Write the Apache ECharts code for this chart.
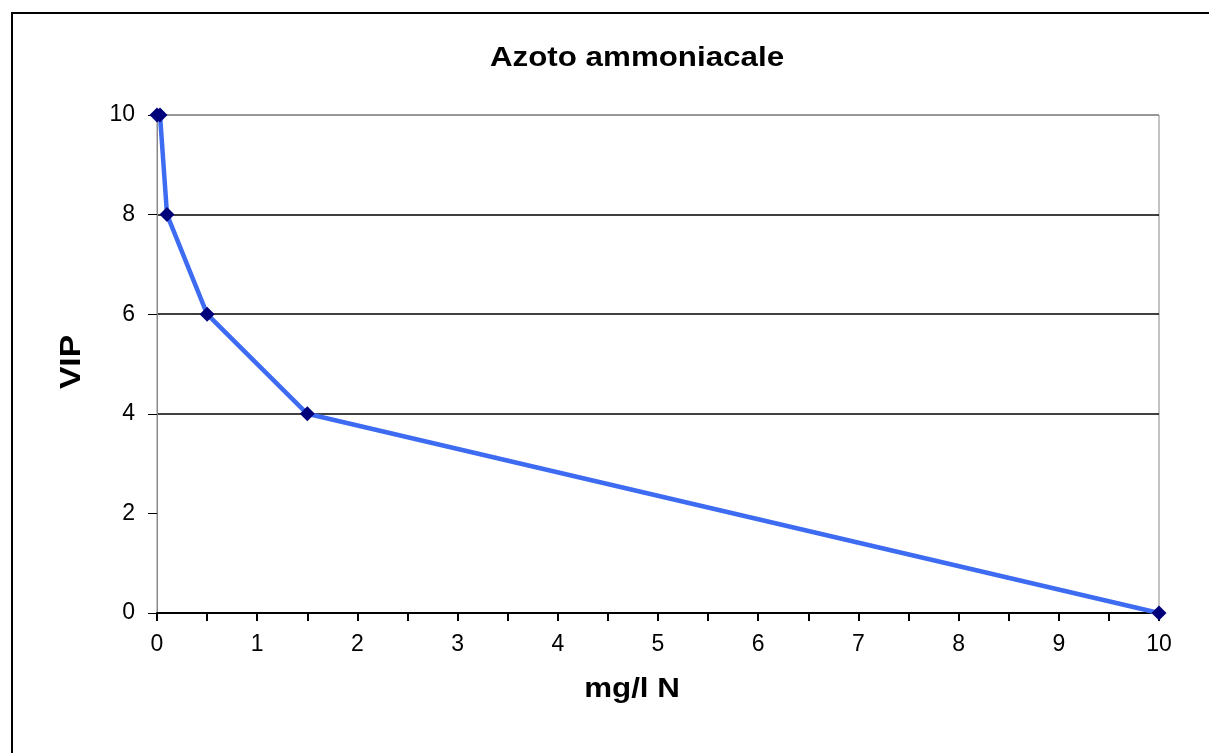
<!DOCTYPE html>
<html>
<head>
<meta charset="utf-8">
<script src="https://cdn.jsdelivr.net/npm/echarts@6/dist/echarts.min.js"></script>
<style>
  html, body { margin: 0; padding: 0; background: #fff; }
  #chart { width: 1209px; height: 753px; }
</style>
</head>
<body>
<div id="chart"></div>
<script>
// valori
const concentrazione = [0, 0.03, 0.1, 0.5, 1.5, 10]   // mg/l N
const vip = [10, 10, 8, 6, 4, 0]
const xTicks = [0, 1, 2, 3, 4, 5, 6, 7, 8, 9, 10]
const yTicks = [0, 2, 4, 6, 8, 10]

const chart = echarts.init(document.getElementById('chart'))
const font = 'Liberation Sans, Arial, sans-serif'
const boldFont = 'bold 27px Liberation Sans, Arial, sans-serif'

let option = {
  backgroundColor: '#fff',
  animation: false,
  graphic: [
    {
      type: 'rect',
      shape: { x: 12, y: 13, width: 1300, height: 800 },
      style: { fill: 'none', stroke: '#000', lineWidth: 2 },
      silent: true,
    },
    {
      // titolo
      type: 'text',
      x: 637,
      y: 59,
      scaleX: 1.16,
      style: { text: 'Azoto ammoniacale', font: boldFont, fill: '#000', textAlign: 'center', textVerticalAlign: 'middle' },
    },
    {
      type: 'text',
      x: 632,
      y: 690,
      scaleX: 1.16,
      style: { text: 'mg/l N', font: boldFont, fill: '#000', textAlign: 'center', textVerticalAlign: 'middle' },
    },
    {
      type: 'text',
      x: 72,
      y: 362,
      rotation: Math.PI / 2,
      scaleX: 1.12,
      style: { text: 'VIP', font: 'bold 30px Liberation Sans, Arial, sans-serif', fill: '#000', textAlign: 'center', textVerticalAlign: 'middle' },
    },
  ],
  grid: {
    left: 157,
    right: 50,
    top: 115,
    bottom: 140,
    show: true,
    borderColor: '#888',
    borderWidth: 1,
  },
  xAxis: {
    type: 'value',
    min: 0,
    max: 10,
    interval: 0.5,
    axisLine: { lineStyle: { color: '#000', width: 2 } },
    axisTick: { show: true, length: 8, lineStyle: { color: '#000', width: 2 } },
    axisLabel: {
      margin: 20,
      fontFamily: font,
      fontSize: 23,
      color: '#000',
      formatter: (v) => (xTicks.includes(v) ? String(v) : ''),
    },
    splitLine: { show: false },
  },
  yAxis: {
    type: 'value',
    min: 0,
    max: 10,
    interval: 2,
    axisLine: { show: true, lineStyle: { color: '#888', width: 1 } },
    axisTick: { show: true, length: 9, lineStyle: { color: '#000', width: 1 } },
    axisLabel: {
      margin: 22,
      fontFamily: font,
      fontSize: 23,
      color: '#000',
      formatter: (v) => (yTicks.includes(v) ? String(v) : ''),
    },
    splitLine: {
      show: true,
      lineStyle: { color: ['transparent', 'transparent', '#000', '#000', '#000', '#888'], width: 1.5 },
    },
  },
  series: [
    {
      type: 'line',
      data: concentrazione.map((x, i) => [x, vip[i]]),
      symbol: 'diamond',
      symbolSize: 15,
      lineStyle: { color: '#3d6cf2', width: 4.5 },
      itemStyle: { color: '#00007a' },
      z: 3,
    },
  ],
}

chart.setOption(option)
window.addEventListener('resize', () => {
  chart.resize()
})
</script>
</body>
</html>
